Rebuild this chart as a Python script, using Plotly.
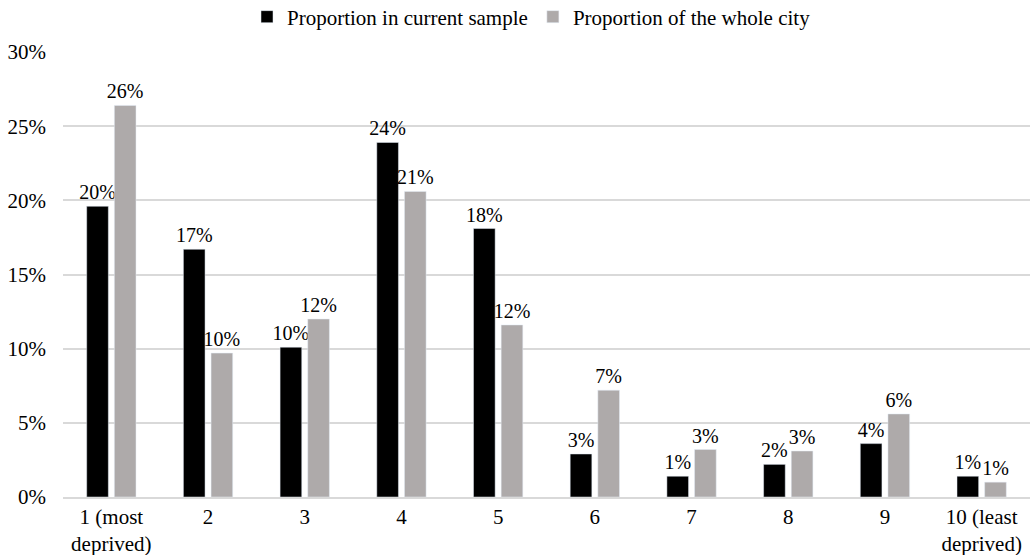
import plotly.graph_objects as go

categories = ["1 (most<br>deprived)", "2", "3", "4", "5", "6", "7", "8", "9", "10 (least<br>deprived)"]
sample = [0.196, 0.167, 0.101, 0.239, 0.181, 0.029, 0.014, 0.022, 0.036, 0.014]
city = [0.264, 0.097, 0.120, 0.206, 0.116, 0.072, 0.032, 0.031, 0.056, 0.010]
y_ticks = [0, 0.05, 0.10, 0.15, 0.20, 0.25, 0.30]

FONT = "'Liberation Serif', 'Times New Roman', Times, serif"

fig = go.Figure()
fig.add_trace(go.Bar(
    x=categories, y=sample, name="Proportion in current sample",
    marker=dict(color="#000000"),
    textposition="outside",
    texttemplate="%{y:.0%}", constraintext="none", cliponaxis=False,
    textfont=dict(family=FONT, size=20, color="#000000"),
))
fig.add_trace(go.Bar(
    x=categories, y=city, name="Proportion of the whole city",
    marker=dict(color="#aeaaaa"),
    textposition="outside",
    texttemplate="%{y:.0%}", constraintext="none", cliponaxis=False,
    textfont=dict(family=FONT, size=20, color="#000000"),
))

fig.update_layout(
    width=1034, height=555,
    margin=dict(l=63, r=4, t=52, b=58, autoexpand=False),
    paper_bgcolor="white", plot_bgcolor="white",
    font=dict(family=FONT, size=21, color="#000000"),
    barmode="group", bargap=0.428, bargroupgap=0.217,
    showlegend=True,
    legend=dict(orientation="h", x=247 / 1034, xanchor="left", xref="container",
                y=1.0787, yanchor="middle", yref="paper",
                font=dict(family=FONT, size=21), itemwidth=30,
                traceorder="normal"),
    xaxis=dict(showgrid=False, showline=True, linecolor="#d9d9d9", linewidth=1.5,
               ticks="", tickfont=dict(family=FONT, size=21)),
    yaxis=dict(range=[0, 0.30], tickvals=y_ticks, tickformat=".0%",
               showgrid=True, gridcolor="#d9d9d9", gridwidth=1.5,
               zeroline=False, showline=False, ticklabelstandoff=16,
               tickfont=dict(family=FONT, size=21)),
)

fig.write_html("out.html", config={"displayModeBar": False},
               post_script="document.body.style.margin='0';")
